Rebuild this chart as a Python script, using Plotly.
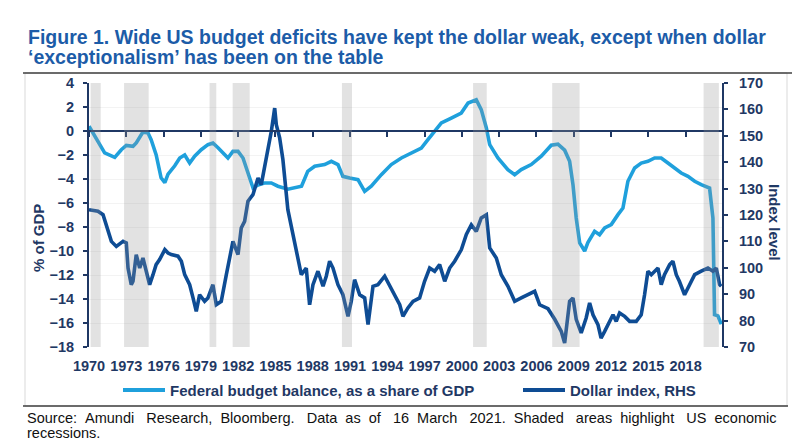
import plotly.graph_objects as go

# ---------------- data ----------------
budget_years = [1970.0, 1970.46, 1971.26, 1972.07, 1972.6, 1973.0, 1973.54, 1973.8, 1974.08, 1974.34,
                1974.75, 1975.0, 1975.4, 1975.8, 1976.1, 1976.36, 1976.9, 1977.3, 1977.7, 1978.1,
                1978.5, 1979.03, 1979.57, 1979.97, 1980.38, 1980.78, 1981.18, 1981.58, 1981.99, 1982.39,
                1982.8, 1983.2, 1983.6, 1984.1, 1984.67, 1985.2, 1986.0, 1986.6, 1987.1, 1987.6,
                1988.16, 1988.96, 1989.5, 1990.03, 1990.43, 1990.97, 1991.64, 1992.18, 1992.71, 1993.52,
                1994.32, 1995.13, 1995.93, 1996.74, 1997.27, 1997.8, 1998.35, 1999.15, 1999.95, 2000.5,
                2001.16, 2001.56, 2001.97, 2002.24, 2002.9, 2003.7, 2004.25, 2004.78, 2005.58, 2006.39,
                2007.19, 2007.73, 2008.27, 2008.67, 2008.94, 2009.2, 2009.48, 2009.88, 2010.14, 2010.68,
                2011.08, 2011.49, 2012.02, 2012.56, 2012.96, 2013.36, 2013.9, 2014.43, 2014.97, 2015.51,
                2016.04, 2016.58, 2017.12, 2017.65, 2018.19, 2018.73, 2019.26, 2019.93, 2020.2, 2020.33,
                2020.6, 2020.87]
budget_pct = [0.4, -0.44, -1.83, -2.2, -1.56, -1.2, -1.28, -1.0, -0.44, -0.08,
              -0.17, -0.72, -1.97, -3.9, -4.3, -3.6, -2.9, -2.25, -2.0, -2.67,
              -2.1, -1.56, -1.14, -1.0, -1.4, -1.83, -2.25, -1.7, -1.7, -2.25,
              -3.6, -4.75, -4.5, -4.33, -4.33, -4.6, -4.85, -4.7, -4.6, -3.36,
              -2.94, -2.8, -2.53, -2.8, -3.78, -3.92, -4.06, -5.03, -4.6, -3.64,
              -2.8, -2.25, -1.83, -1.42, -0.72, -0.03, 0.67, 1.08, 1.5, 2.33,
              2.6, 1.78, 0.25, -1.14, -2.25, -3.22, -3.64, -3.22, -2.8, -2.1,
              -1.19, -1.1, -1.6, -2.53, -4.47, -7.25, -9.33, -10.0, -9.3, -8.36,
              -8.64, -8.08, -7.8, -6.97, -6.42, -4.19, -3.08, -2.67, -2.53, -2.25,
              -2.25, -2.67, -3.08, -3.5, -3.78, -4.19, -4.47, -4.75, -7.25, -15.3,
              -15.4, -16.1]

dollar_years = [1970.0, 1970.72, 1971.13, 1971.4, 1971.8, 1972.2, 1972.74, 1973.0, 1973.14, 1973.4,
                1973.54, 1973.8, 1974.08, 1974.34, 1974.6, 1974.88, 1975.15, 1975.4, 1975.68, 1976.1,
                1976.36, 1976.62, 1977.16, 1977.43, 1977.7, 1978.1, 1978.37, 1978.63, 1978.9, 1979.3,
                1979.57, 1979.97, 1980.24, 1980.64, 1981.05, 1981.32, 1981.58, 1981.99, 1982.25, 1982.52,
                1982.79, 1983.19, 1983.6, 1983.86, 1984.13, 1984.4, 1984.67, 1984.94, 1985.07, 1985.34,
                1985.6, 1986.0, 1986.55, 1987.08, 1987.48, 1987.75, 1988.02, 1988.42, 1988.83, 1989.09,
                1989.36, 1989.63, 1990.03, 1990.43, 1990.84, 1991.1, 1991.37, 1991.78, 1992.18, 1992.45,
                1992.85, 1993.25, 1993.79, 1994.19, 1994.6, 1995.0, 1995.26, 1995.66, 1996.07, 1996.6,
                1997.0, 1997.41, 1997.81, 1998.21, 1998.62, 1999.02, 1999.42, 1999.96, 2000.36, 2000.76,
                2001.16, 2001.56, 2001.97, 2002.24, 2002.77, 2003.17, 2003.71, 2004.25, 2004.78, 2005.32,
                2005.86, 2006.26, 2006.93, 2007.47, 2008.0, 2008.27, 2008.67, 2008.94, 2009.2, 2009.6,
                2010.0, 2010.28, 2010.55, 2010.95, 2011.2, 2011.49, 2011.75, 2012.16, 2012.42, 2012.69,
                2013.1, 2013.5, 2014.03, 2014.43, 2014.7, 2014.97, 2015.24, 2015.5, 2015.78, 2016.04,
                2016.3, 2016.72, 2016.98, 2017.25, 2017.5, 2017.92, 2018.33, 2018.73, 2019.26, 2019.8,
                2020.2, 2020.47, 2020.74, 2020.87]
dollar_index = [122.0, 121.4, 120.1, 116.3, 110.0, 108.1, 110.0, 109.4, 99.9, 93.6,
                94.9, 105.0, 99.9, 103.7, 98.7, 93.6, 97.4, 101.2, 103.1, 106.9,
                105.6, 105.0, 104.4, 102.5, 97.4, 93.6, 88.6, 83.5, 89.8, 87.3,
                88.6, 93.6, 86.0, 87.3, 97.4, 103.7, 110.0, 105.0, 115.1, 117.6,
                125.2, 127.7, 134.0, 131.5, 137.8, 144.1, 151.7, 160.5, 154.2, 149.2,
                141.0, 122.0, 108.8, 97.4, 99.9, 86.0, 93.6, 98.7, 93.0, 96.8,
                102.5, 99.9, 93.6, 89.8, 81.6, 87.3, 95.5, 89.8, 88.6, 78.5,
                93.0, 93.6, 96.8, 93.0, 89.8, 86.0, 81.6, 84.8, 87.3, 88.6,
                94.9, 99.9, 98.7, 101.2, 94.9, 99.9, 102.5, 106.9, 112.6, 116.3,
                113.8, 118.9, 120.1, 107.5, 103.7, 97.4, 93.0, 87.3, 88.6, 89.8,
                91.1, 86.0, 84.5, 80.5, 75.9, 71.5, 87.3, 88.6, 80.5, 75.3,
                81.0, 86.7, 82.2, 78.5, 73.4, 75.9, 78.5, 82.2, 79.7, 82.9,
                81.6, 79.7, 79.7, 82.2, 89.8, 98.7, 97.4, 98.7, 99.9, 93.6,
                97.4, 101.2, 102.5, 97.4, 94.9, 89.8, 93.6, 97.4, 98.7, 99.9,
                98.7, 99.9, 93.6, 93.0]

recession_start = [1970.13, 1972.82, 1979.7, 1981.56, 1990.35, 2000.9, 2007.27, 2019.45]
recession_end = [1970.94, 1974.8, 1980.24, 1982.93, 1991.16, 2002.0, 2009.47, 2020.68]

tick_years = list(range(1970, 2019, 3))
tick_labels = [str(y) for y in tick_years]
x_range = [1970.0, 2020.93]

series_names = ["Federal budget balance, as a share of GDP", "Dollar index, RHS"]
title_line1 = "Figure 1. Wide US budget deficits have kept the dollar weak, except when dollar"
title_line2 = "‘exceptionalism’ has been on the table"
source_words1 = ["Source:", "Amundi", "Research,", "Bloomberg.", "Data", "as", "of", "16", "March",
                 "2021.", "Shaded", "areas", "highlight", "US", "economic"]
source_line2 = "recessions."

# ---------------- styling ----------------
W, H = 800, 441
L, R, T, B = 81, 86, 75, 102
PW, PH = W - L - R, H - T - B


def px_x(p):
    return (p - L) / PW


def px_y(p):
    return (H - B - p) / PH


NAVY = "#1f3864"
LIGHT = "#1fa0dc"
DARK = "#0e4c94"
TITLE_C = "#1c5ca8"
FONT = "Liberation Sans, Arial, sans-serif"
NBSP = "\u00a0"

# emulate the justified first source line with extra non-breaking spaces
extra_gaps = [1, 2, 1, 2, 1, 1, 2, 1, 2, 1, 2, 1, 2, 1]
source_line1 = source_words1[0]
for w, k in zip(source_words1[1:], extra_gaps):
    source_line1 += " " + NBSP * k + w

fig = go.Figure()
fig.add_trace(go.Scatter(x=budget_years, y=budget_pct, mode="lines", name=series_names[0],
                         line=dict(color=LIGHT, width=3.6), yaxis="y", showlegend=False))
fig.add_trace(go.Scatter(x=dollar_years, y=dollar_index, mode="lines", name=series_names[1],
                         line=dict(color=DARK, width=3.6), yaxis="y2", showlegend=False))
# helper trace so the zero-line axis (x2) is rendered
fig.add_trace(go.Scatter(x=[x_range[0]], y=[0], mode="none", xaxis="x2", yaxis="y",
                         showlegend=False, hoverinfo="skip"))

shapes = []
for s, e in zip(recession_start, recession_end):
    shapes.append(dict(type="rect", xref="x", yref="y domain", x0=s, x1=e, y0=0, y1=1,
                       fillcolor="rgba(150,150,150,0.28)", line=dict(width=0), layer="above"))
shapes.append(dict(type="rect", xref="paper", yref="paper", x0=px_x(17), x1=px_x(779),
                   y0=px_y(398), y1=px_y(65), line=dict(color="#d9d9d9", width=1), layer="below"))
shapes.append(dict(type="line", xref="paper", yref="paper", x0=px_x(15), x1=px_x(785),
                   y0=px_y(65), y1=px_y(65), line=dict(color="#404040", width=1.5)))
shapes.append(dict(type="line", xref="paper", yref="paper", x0=px_x(15), x1=px_x(780),
                   y0=px_y(398), y1=px_y(398), line=dict(color="#404040", width=1.5)))
# manual legend symbols
legend_items = [(115, 157, 160, LIGHT, series_names[0]), (515, 557, 560, DARK, series_names[1])]
for x0, x1, _, col, _ in legend_items:
    shapes.append(dict(type="line", xref="paper", yref="paper", x0=px_x(x0), x1=px_x(x1),
                       y0=px_y(382), y1=px_y(382), line=dict(color=col, width=4)))

annotations = [
    dict(text=title_line1, xref="paper", yref="paper", x=px_x(18), y=px_y(28.5), xanchor="left",
         yanchor="middle", showarrow=False,
         font=dict(family=FONT, size=19.5, color=TITLE_C, weight="bold")),
    dict(text=title_line2, xref="paper", yref="paper", x=px_x(18), y=px_y(48.5), xanchor="left",
         yanchor="middle", showarrow=False,
         font=dict(family=FONT, size=19.5, color=TITLE_C, weight="bold")),
    dict(text=source_line1, xref="paper", yref="paper", x=px_x(17), y=px_y(409.5), xanchor="left",
         yanchor="middle", showarrow=False, font=dict(family=FONT, size=14.5, color="#111111")),
    dict(text=source_line2, xref="paper", yref="paper", x=px_x(17), y=px_y(425), xanchor="left",
         yanchor="middle", showarrow=False, font=dict(family=FONT, size=14.5, color="#111111")),
    dict(text="% of GDP", xref="paper", yref="paper", x=px_x(30), y=px_y(230), textangle=-90,
         xanchor="center", yanchor="middle", showarrow=False,
         font=dict(family=FONT, size=15, color=NAVY, weight="bold")),
    dict(text="Index level", xref="paper", yref="paper", x=px_x(767), y=px_y(214), textangle=90,
         xanchor="center", yanchor="middle", showarrow=False,
         font=dict(family=FONT, size=15, color=NAVY, weight="bold")),
]
for _, _, tx, _, name in legend_items:
    annotations.append(dict(text=name, xref="paper", yref="paper", x=px_x(tx), y=px_y(382),
                            xanchor="left", yanchor="middle", showarrow=False,
                            font=dict(family=FONT, size=15, color=NAVY, weight="bold")))

tickfont = dict(family=FONT, size=14.5, color=NAVY, weight="bold")

fig.update_layout(
    width=W, height=H,
    margin=dict(l=L, r=R, t=T, b=B, pad=0),
    paper_bgcolor="white", plot_bgcolor="white",
    showlegend=False,
    xaxis=dict(range=x_range, tickvals=tick_years, ticktext=tick_labels, showline=False,
               showgrid=False, zeroline=False, ticks="outside", ticklen=6,
               tickcolor="rgba(0,0,0,0)", tickfont=tickfont),
    xaxis2=dict(range=x_range, overlaying="x", anchor="free", position=18 / 22, side="bottom",
                tickvals=tick_years, showticklabels=False, ticks="outside", ticklen=5, tickwidth=2,
                tickcolor=NAVY, showline=True, linecolor=NAVY, linewidth=2, showgrid=False,
                zeroline=False),
    yaxis=dict(range=[-18, 4], dtick=2, tick0=0, showline=True, linecolor=NAVY, linewidth=2,
               ticks="outside", ticklen=4, tickwidth=2, tickcolor=NAVY, tickfont=tickfont,
               showgrid=True, gridcolor="#f3f3f3", zeroline=False, ticklabelstandoff=6),
    yaxis2=dict(range=[70, 170], dtick=10, overlaying="y", side="right", showline=True,
                linecolor=NAVY, linewidth=2, ticks="outside", ticklen=4, tickwidth=2,
                tickcolor=NAVY, tickfont=tickfont, showgrid=False, zeroline=False,
                ticklabelstandoff=8),
    shapes=shapes,
    annotations=annotations,
)

fig.write_html("out.html")
